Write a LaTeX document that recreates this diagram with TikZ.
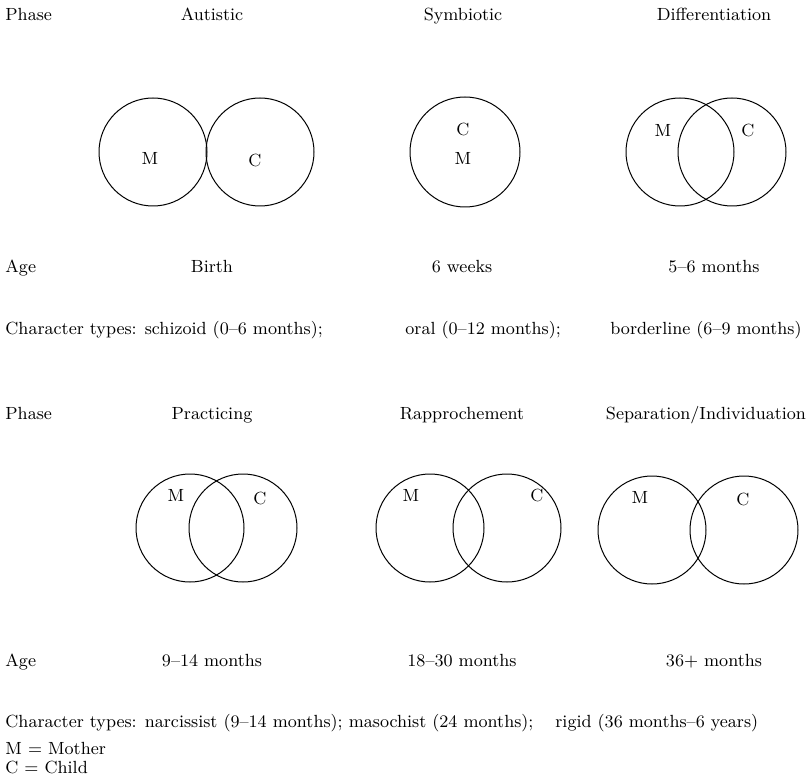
\documentclass[tikz,border=0pt]{standalone}
\usetikzlibrary{positioning}

\begin{document}
\begin{tikzpicture}[x=0.5pt,y=0.5pt,yscale=-1,
  lbl/.style={inner sep=0pt,font=\fontsize{8.8}{11}\selectfont,anchor=base},
  lft/.style={lbl,anchor=base west},
  ring/.style={line width=0.5pt}]
\useasboundingbox (0,0) rectangle (808,775);

% first row: autistic, symbiotic, differentiation
\node[lft] (phaseA) at (5,21) {Phase};
\node[lbl] (autistic) at (212,21) {Autistic};
\node[lbl] (symbiotic) at (463,21) {Symbiotic};
\node[lbl] (differ) at (714,21) {Differentiation};

\draw[ring] (153,152) circle (54);
\draw[ring] (260,152) circle (54);
\node[lbl] (autM) at (150,165) {M};
\node[lbl] (autC) at (255,167) {C};

\draw[ring] (465,152) circle (55);
\node[lbl] (symC) at (463,136) {C};
\node[lbl] (symM) at (463,165) {M};

\draw[ring] (680,152) circle (54);
\draw[ring] (732,152) circle (54);
\node[lbl] (difM) at (663,137) {M};
\node[lbl] (difC) at (748,137) {C};

\node[lft] (ageA) at (5,272) {Age};
\node[lbl] (birth) at (212,272) {Birth};
\node[lbl] (weeks) at (462,272) {6 weeks};
\node[lbl] (fivesix) at (714,272) {5--6 months};

\node[lft] (typesA) at (5,334) {Character types: schizoid (0--6 months);};
\node[lft] (oral) at (405,334) {oral (0--12 months);};
\node[lft] (border) at (610,334) {borderline (6--9 months)};

% second row: practicing, rapprochement, separation
\node[lft] (phaseB) at (5,419) {Phase};
\node[lbl] (practicing) at (212,419) {Practicing};
\node[lbl] (rappro) at (462,419) {Rapprochement};
\node[lbl] (separation) at (706,419) {Separation/Individuation};

\draw[ring] (190,528) circle (54);
\draw[ring] (243,528) circle (54);
\node[lbl] (praM) at (176,501) {M};
\node[lbl] (praC) at (260,504) {C};

\draw[ring] (430,528) circle (54);
\draw[ring] (507,528) circle (54);
\node[lbl] (rapM) at (411,501) {M};
\node[lbl] (rapC) at (537,501) {C};

\draw[ring] (652,530) circle (54);
\draw[ring] (744,530) circle (54);
\node[lbl] (sepM) at (640,503) {M};
\node[lbl] (sepC) at (743,505) {C};

\node[lft] (ageB) at (5,666) {Age};
\node[lbl] (ninefourteen) at (212,666) {9--14 months};
\node[lbl] (eighteen) at (462,666) {18--30 months};
\node[lbl] (thirtysix) at (714,666) {36+ months};

\node[lft] (typesB) at (5,727) {Character types: narcissist (9--14 months); masochist (24 months);};
\node[lft] (rigid) at (555,727) {rigid (36 months--6 years)};

\node[lft] (keyM) at (5,754) {M = Mother};
\node[lft] (keyC) at (5,773) {C = Child};
\end{tikzpicture}
\end{document}
